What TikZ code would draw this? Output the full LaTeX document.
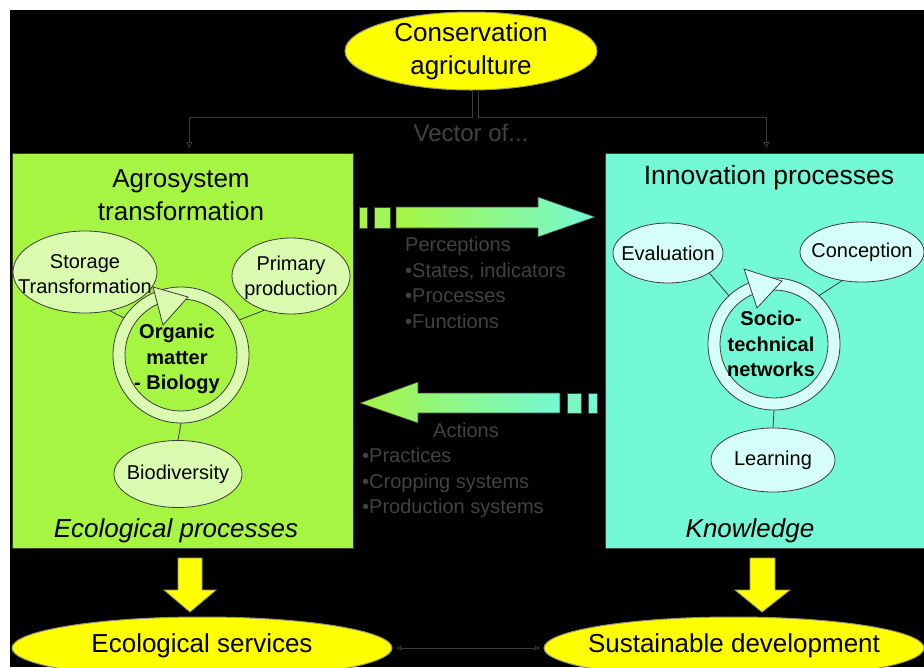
\documentclass[tikz,border=0pt]{standalone}
\usepackage{fontspec}
\setmainfont{Liberation Sans}
\usetikzlibrary{shapes.geometric,arrows.meta,calc}
\definecolor{lime}{RGB}{166,245,66}
\definecolor{aqua}{RGB}{116,249,214}
\definecolor{limelt}{RGB}{218,250,175}
\definecolor{aqualt}{RGB}{214,255,250}
\definecolor{yel}{RGB}{255,255,0}
\definecolor{dim}{RGB}{66,66,66}
\definecolor{edge}{RGB}{60,60,60}
\definecolor{shadowgray}{RGB}{150,150,120}
\begin{document}
\begin{tikzpicture}[x=1pt,y=-1pt,
  conn/.style={draw=edge, line width=0.8pt},
  boxstyle/.style={draw=edge, line width=0.8pt, inner sep=0, anchor=north west},
  ovl/.style={ellipse, draw=edge, line width=0.8pt, inner sep=0},
  ringnode/.style={circle, inner sep=0, draw=none},
  big/.style={font=\fontsize{26}{33}\selectfont, align=center, inner sep=0},
  bigit/.style={font=\fontsize{26}{33}\selectfont\itshape, inner sep=0},
  med/.style={font=\fontsize{20}{25}\selectfont, align=center, inner sep=0},
  medb/.style={font=\fontsize{20}{25.5}\selectfont\bfseries, align=center, inner sep=0},
  dimtxt/.style={text=dim, font=\fontsize{20}{25.5}\selectfont, align=left, inner sep=0},
  yellowell/.style={ellipse, fill=yel, draw=shadowgray, line width=1pt, inner sep=0},
  yarrow/.style={fill=yel, draw=shadowgray, line width=0.8pt},
  garrow/.style={left color=lime, right color=aqua, draw=dim, line width=0.6pt},
  tipend/.style={-{Triangle[open,length=6pt,width=6pt]}},
  bothtip/.style={{Triangle[open,length=5pt,width=5pt]}-{Triangle[open,length=5pt,width=5pt]}}
]
\useasboundingbox (0,0) rectangle (924,667);
\clip (0,0) rectangle (924,667);
\fill[white] (0,0) rectangle (924,667);
\fill[black] (10,10) rectangle (924,667);

% main boxes
\node[boxstyle, fill=lime, minimum width=341, minimum height=395] (lbox) at (12,153) {};
\node[boxstyle, fill=aqua, minimum width=325, minimum height=395] (rbox) at (605,153) {};

% top ellipse
\node[yellowell, minimum width=252, minimum height=78] (ca) at (471,51) {};
\node[big] (caT) at (ca) {Conservation\\agriculture};

\draw[conn, tipend] ($(ca.south)+(1,0)$) -- ++(0,27) -| ($(lbox.north)+(6.5,-5)$);
\draw[conn, tipend] ($(ca.south)+(7,0)$) -- ++(0,27) -| ($(rbox.north)+(-1.5,-5)$);
\node[text=dim, font=\fontsize{24}{28}\selectfont, inner sep=0] (vec) at (471,133) {Vector of...};

% titles
\node[big] (agt) at (181,195) {Agrosystem\\transformation};
\node[big, font=\fontsize{26.5}{33}\selectfont] (inn) at (769,178) {Innovation processes};
\node[bigit] (ecp) at (176,531) {Ecological processes};
\node[bigit] (kno) at (750,531) {Knowledge};

% left cycle
\node[ovl, fill=limelt, minimum width=144, minimum height=82] (st) at (85,272) {};
\node[med] (stT) at (85,274) {Storage\\Transformation};
\node[ovl, fill=limelt, minimum width=118, minimum height=76] (pp) at (291,276) {};
\node[med] (ppT) at (291,278) {Primary\\production};
\node[ovl, fill=limelt, minimum width=128, minimum height=67] (bio) at (178,474) {};
\node[med] (bioT) at (bio) {Biodiversity};
\node[ringnode, minimum size=136] (lring) at (181,355) {};
\filldraw[fill=limelt, draw=edge, line width=0.8pt, even odd rule] (lring.center) circle[radius=68] (lring.center) circle[radius=56];
\filldraw[fill=limelt, draw=edge, line width=0.8pt] ($(lring)+(-28,-68)$) -- ($(lring)+(7,-58)$) -- ($(lring)+(-18,-30)$) -- cycle;
\node[medb] (om) at (177,359) {Organic\\matter\\- Biology};
\draw[conn] (st.-57) -- (lring.147);
\draw[conn] (pp.-128) -- (lring.31);
\draw[conn] (lring.south) -- (bio.north);

% right cycle
\node[ovl, fill=aqualt, minimum width=110, minimum height=60] (ev) at (668,253) {};
\node[med] (evT) at (ev) {Evaluation};
\node[ovl, fill=aqualt, minimum width=124, minimum height=60] (co) at (862,252) {};
\node[med] (coT) at (co) {Conception};
\node[ovl, fill=aqualt, minimum width=124, minimum height=64] (lea) at (773,460) {};
\node[med] (leaT) at (lea) {Learning};
\node[ringnode, minimum size=132] (rring) at (774,344) {};
\filldraw[fill=aqualt, draw=edge, line width=0.8pt, even odd rule] (rring.center) circle[radius=66] (rring.center) circle[radius=54];
\filldraw[fill=aqualt, draw=edge, line width=0.8pt] ($(rring)+(-30,-75)$) -- ($(rring)+(8,-63)$) -- ($(rring)+(-17,-36)$) -- cycle;
\node[medb] (stn) at (771,344) {Socio-\\technical\\networks};
\draw[conn] (ev.-26) -- (rring.133);
\draw[conn] (co.-125) -- (rring.47);
\draw[conn] (rring.south) -- (lea.north);

% gradient arrows
\fill[lime, draw=dim, line width=0.6pt] (359,207) rectangle (367,228);
\fill[lime!85!aqua, draw=dim, line width=0.6pt] (374,207) rectangle (390,228);
\shadedraw[garrow] (396,207) -- (538,207) -- (538,197) -- (595,217) -- (538,237) -- (538,228) -- (396,228) -- cycle;
\node[dimtxt, anchor=north west] (perc) at (405,237) {Perceptions\\•States, indicators\\•Processes\\•Functions};

\shadedraw[garrow] (360,403) -- (418,382) -- (418,393) -- (560,393) -- (560,413) -- (418,413) -- (418,423) -- cycle;
\fill[aqua!90!lime, draw=dim, line width=0.6pt] (567,393) rectangle (581,413);
\fill[aqua, draw=dim, line width=0.6pt] (588,393) rectangle (597,413);
\node[text=dim, font=\fontsize{20}{25.5}\selectfont, inner sep=0] (act) at (466,430) {Actions};
\node[dimtxt, anchor=north west] (actl) at (362,448) {•Practices\\•Cropping systems\\•Production systems};

% yellow arrows
\filldraw[yarrow] (178,558) -- (202,558) -- (202,590) -- (216,590) -- (190,612) -- (164,590) -- (178,590) -- cycle;
\filldraw[yarrow] (750,558) -- (775,558) -- (775,590) -- (790,590) -- (762,612) -- (735,590) -- (750,590) -- cycle;

% bottom ellipses
\node[yellowell, minimum width=380, minimum height=62] (es) at (202,648) {};
\node[big] (esT) at (202,646) {Ecological services};
\node[yellowell, minimum width=380, minimum height=62] (sd) at (734,648) {};
\node[big] (sdT) at (734,646) {Sustainable development};
\draw[conn, bothtip, shorten <=4pt, shorten >=4pt] (es.east) -- (sd.west);
\end{tikzpicture}
\end{document}
